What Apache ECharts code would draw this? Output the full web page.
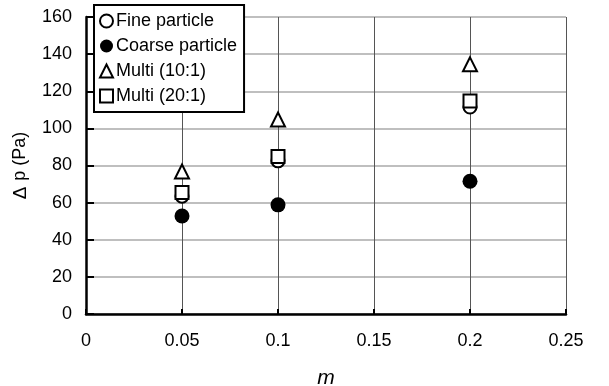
<!DOCTYPE html>
<html>
<head>
<meta charset="utf-8">
<script src="https://cdn.jsdelivr.net/npm/echarts@6/dist/echarts.min.js"></script>
<style>
  html, body { margin: 0; padding: 0; background: #fff; }
  #chart { width: 609px; height: 386px; }
</style>
</head>
<body>
<div id="chart"></div>
<script>
// Loading ratio m on the x axis
const mValues = [0.05, 0.1, 0.2];
// Pressure drop Δp (Pa) for each powder
const fineParticle = [63.5, 82.5, 111.5];
const coarseParticle = [52.8, 58.8, 71.5];
const multi10 = [76.8, 104.8, 134.5];
const multi20 = [65.5, 84.8, 114.8];

const seriesNames = ['Fine particle', 'Coarse particle', 'Multi (10:1)', 'Multi (20:1)'];
const xTicks = [0, 0.05, 0.1, 0.15, 0.2, 0.25];
const yTicks = [0, 20, 40, 60, 80, 100, 120, 140, 160];

const font = '"Liberation Sans", Arial, sans-serif';

function pairs(ys) { return mValues.map((x, i) => [x, ys[i]]); }

const chart = echarts.init(document.getElementById('chart'), null, { renderer: 'canvas' });

const markerStyle = (fill) => ({ color: fill, borderColor: '#000', borderWidth: 2, opacity: 1 });

chart.setOption({
  animation: false,
  backgroundColor: '#fff',
  grid: { left: 86, right: 43, top: 17, bottom: 72, containLabel: false, outerBoundsMode: 'none' },
  legend: {
    orient: 'vertical',
    left: 94,
    top: 5,
    data: seriesNames,
    backgroundColor: '#fff',
    borderColor: '#000',
    borderWidth: 2,
    borderRadius: 0,
    padding: [7, 7, 7, 5],
    itemGap: 7,
    itemWidth: 13,
    itemHeight: 13,
    textStyle: { fontFamily: font, fontSize: 18, color: '#000', padding: [0, 0, 0, -2], lineHeight: 18 }
  },
  xAxis: {
    type: 'value',
    min: 0, max: 0.25, interval: 0.05,
    name: 'm',
    nameLocation: 'middle',
    nameGap: 54,
    nameTextStyle: { fontFamily: font, fontSize: 21, fontStyle: 'italic', color: '#000' },
    axisLine: { show: true, onZero: false, lineStyle: { color: '#000', width: 2.5 } },
    axisTick: { show: true, inside: true, length: 5, lineStyle: { color: '#000', width: 2 } },
    axisLabel: {
      fontFamily: font, fontSize: 18, color: '#000', margin: 18,
      formatter: v => { const t = xTicks.find(k => Math.abs(k - v) < 1e-9); return t === undefined ? '' : String(t); }
    },
    splitLine: { show: true, lineStyle: { color: '#555', width: 1 } }
  },
  yAxis: {
    type: 'value',
    min: 0, max: 160, interval: 20,
    name: '{d|Δ}p (Pa)',
    nameLocation: 'middle',
    nameGap: 56,
    nameRotate: 90,
    nameTextStyle: {
      fontFamily: font, fontSize: 18, color: '#000',
      rich: { d: { fontFamily: font, fontSize: 19, color: '#000', padding: [0, 6, 0, 0] } }
    },
    axisLine: { show: true, onZero: false, lineStyle: { color: '#000', width: 2.5 } },
    axisTick: { show: true, inside: true, length: 8, lineStyle: { color: '#000', width: 2 } },
    axisLabel: {
      fontFamily: font, fontSize: 18, color: '#000', margin: 14,
      formatter: v => (yTicks.includes(v) ? String(v) : '')
    },
    splitLine: { show: true, lineStyle: { color: '#aaa', width: 1.5 } }
  },
  series: [
    {
      name: seriesNames[0], type: 'scatter', symbol: 'circle', symbolSize: 13,
      itemStyle: markerStyle('#fff'), data: pairs(fineParticle), z: 3
    },
    {
      name: seriesNames[1], type: 'scatter', symbol: 'circle', symbolSize: 15,
      itemStyle: { color: '#000', borderColor: '#000', borderWidth: 0, opacity: 1 }, data: pairs(coarseParticle), z: 3
    },
    {
      name: seriesNames[2], type: 'scatter', symbol: 'triangle', symbolSize: 14,
      itemStyle: markerStyle('#fff'), data: pairs(multi10), z: 4
    },
    {
      name: seriesNames[3], type: 'scatter', symbol: 'rect', symbolSize: 13,
      itemStyle: markerStyle('#fff'), data: pairs(multi20), z: 4
    }
  ]
});
</script>
</body>
</html>
